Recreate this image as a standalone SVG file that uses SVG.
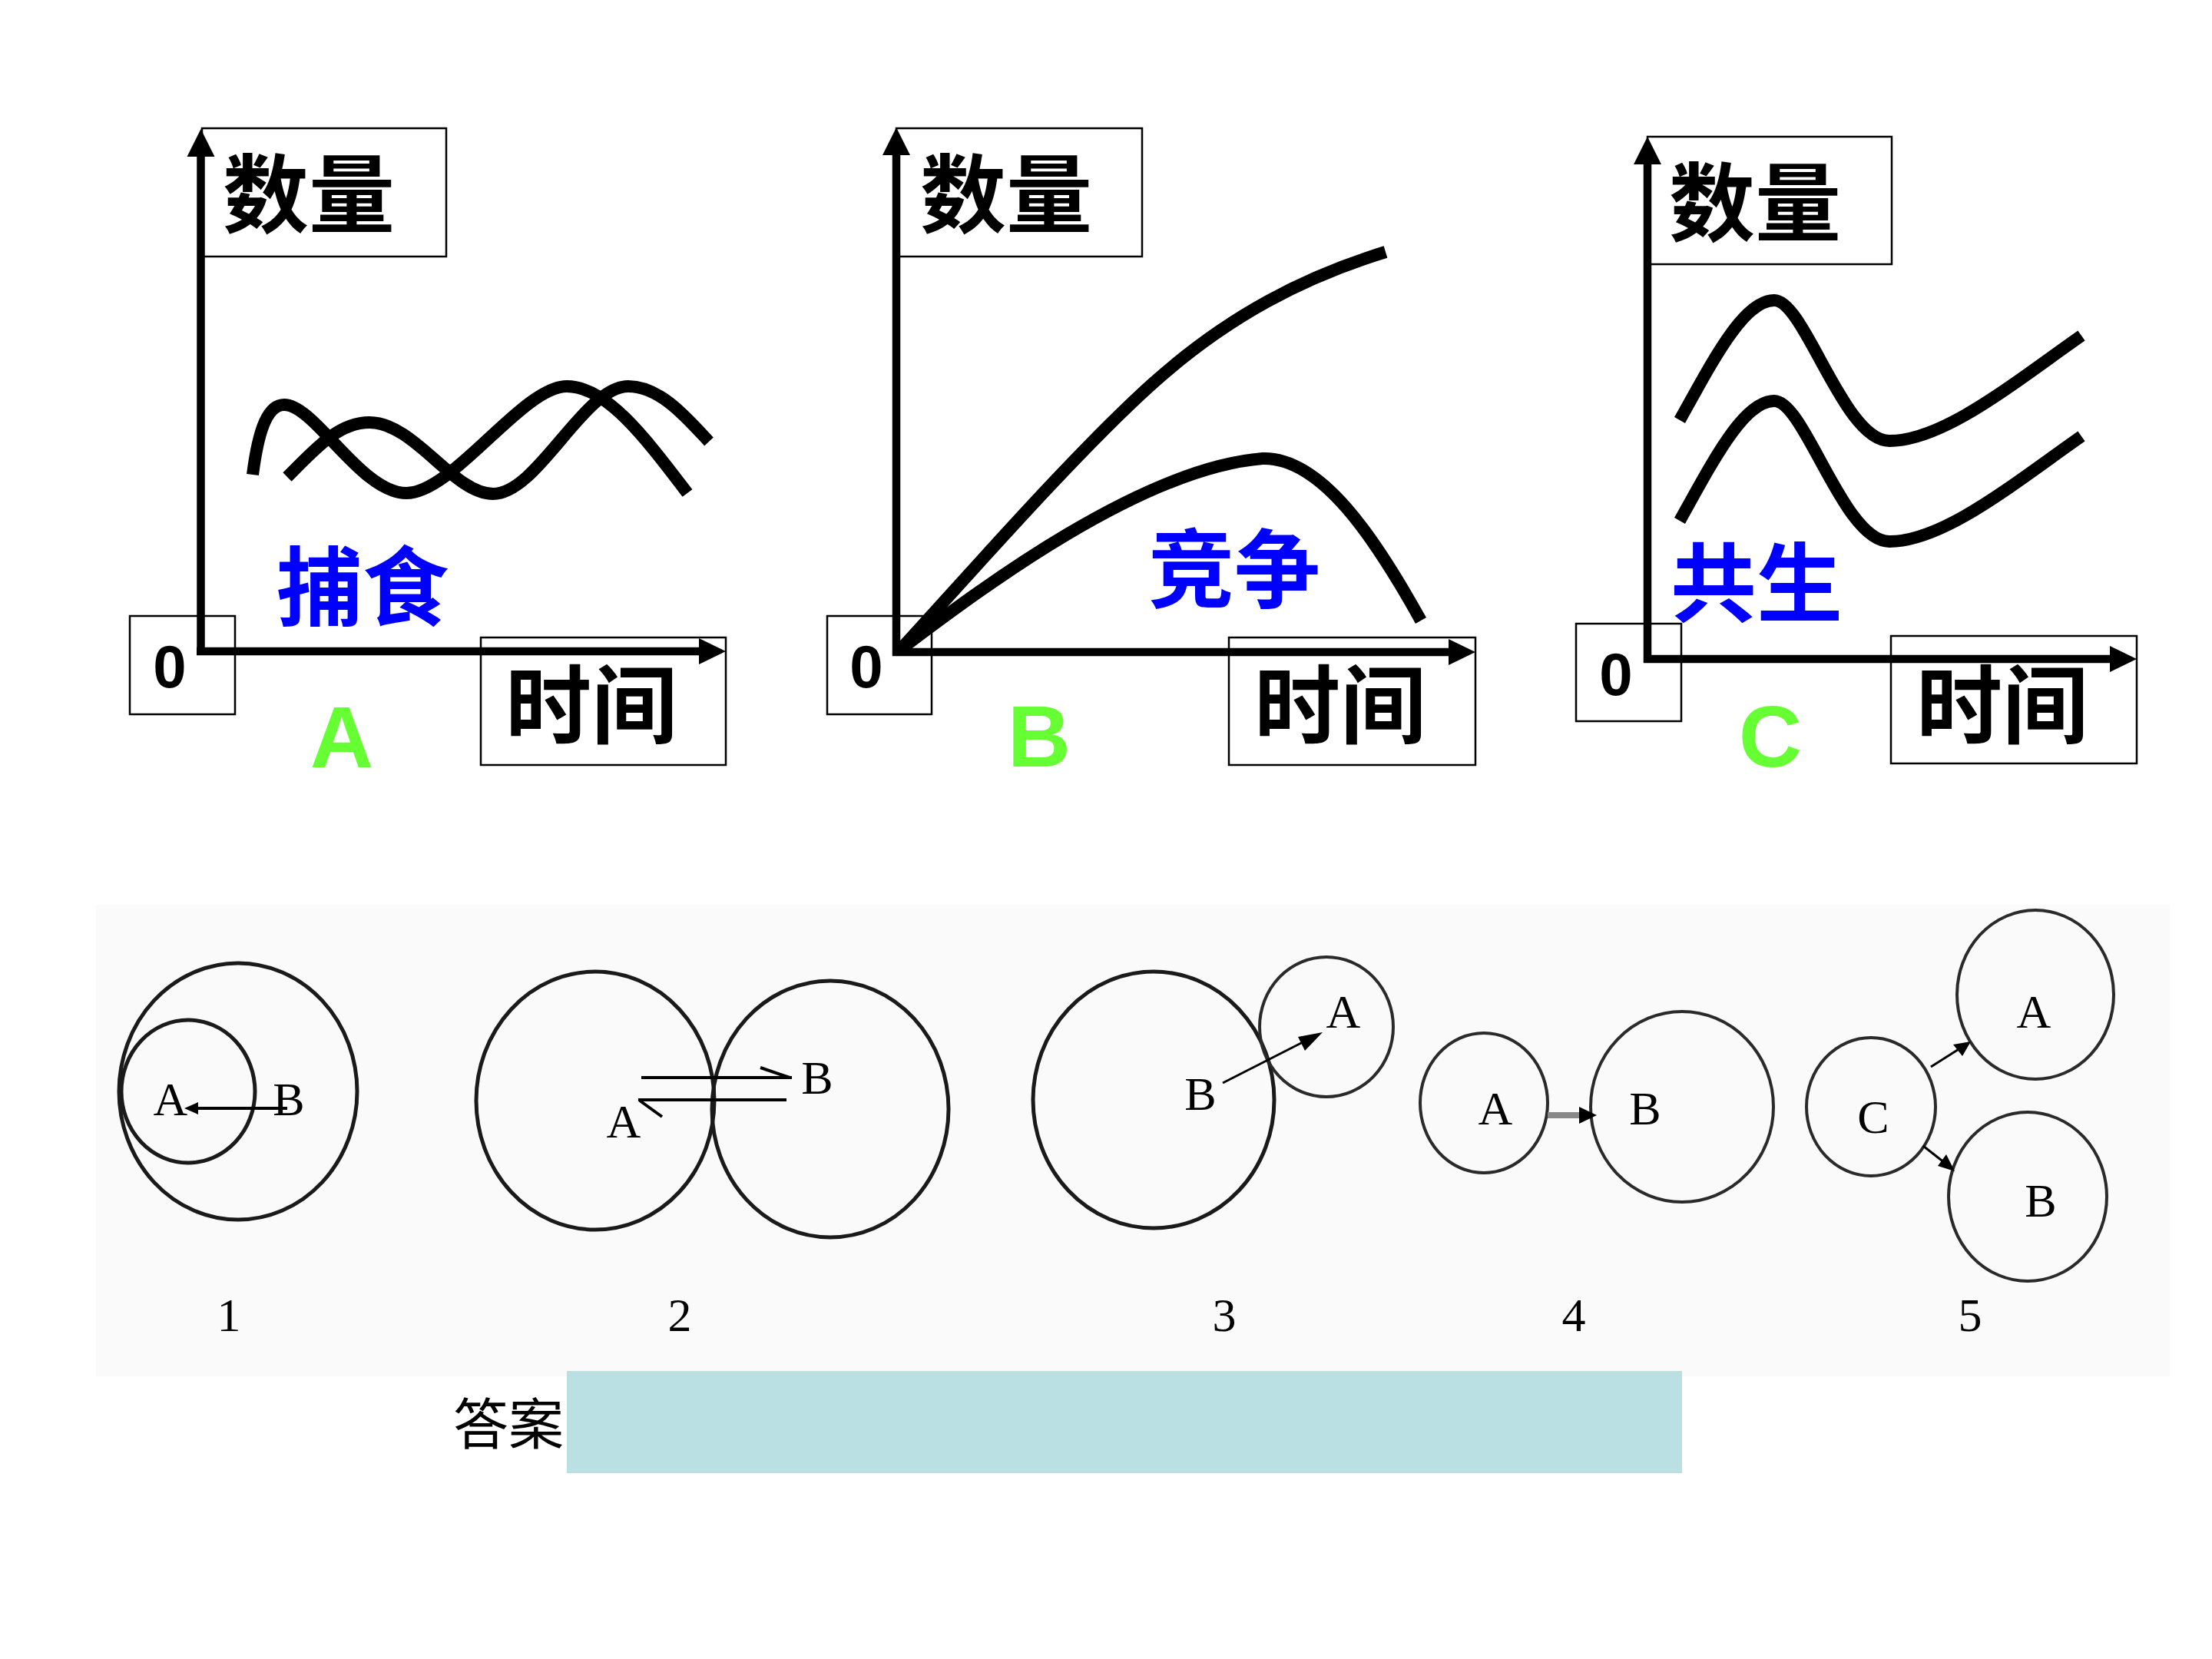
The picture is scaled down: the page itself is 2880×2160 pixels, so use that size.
<svg xmlns="http://www.w3.org/2000/svg" width="2880" height="2160" viewBox="0 0 2880 2160">
<style>
.box{fill:none;stroke:#000;stroke-width:2.5}
.axis{stroke:#000;stroke-width:10.5;fill:none}
.curve{stroke:#000;stroke-width:16;fill:none;stroke-linecap:butt}
.cjk{font-family:"Noto Sans CJK SC","Noto Sans CJK JP",sans-serif;font-weight:bold;font-size:112px}
.zero{font-family:"Liberation Sans",Arial,sans-serif;font-weight:bold;font-size:78px;text-anchor:middle}
.big{font-family:"Liberation Sans",Arial,sans-serif;font-weight:bold;font-size:114px;text-anchor:middle;fill:#66FF33}
.blue{fill:#0000FF}
.ring{fill:none;stroke:#1a1a1a;stroke-width:5}
.ring2{fill:none;stroke:#2a2a2a;stroke-width:4}
.lbl{font-family:"Liberation Serif","Times New Roman",serif;font-size:62px;text-anchor:middle;fill:#000}
.thin{stroke:#000;stroke-width:4;fill:none}
</style>
<rect width="2880" height="2160" fill="#fff"/>

<g id="panelA">
  <rect class="box" x="263" y="167" width="318" height="167"/>
  <rect class="box" x="169" y="802" width="137" height="128"/>
  <rect class="box" x="626" y="830" width="319" height="166"/>
  <line class="axis" x1="261.5" y1="200" x2="261.5" y2="853"/>
  <line class="axis" x1="256" y1="848" x2="912" y2="848"/>
  <polygon points="261.5,168 243.5,204 279.5,204"/>
  <polygon points="945,848 910,831 910,865"/>
  <path class="curve" d="M329,618 C337,555 350,527 370,527 C410,527 470,642 529,642 C590,642 680,503 738,503 C790,503 840,570 895,642"/>
  <path class="curve" d="M374,621 C410,585 440,550 481,550 C540,550 590,643 642,643 C700,643 760,503 818,503 C860,503 895,545 923,575"/>
  <text class="cjk" x="290" y="295">数量</text>
  <text class="cjk" x="658" y="960">时间</text>
  <text class="cjk blue" x="360" y="806">捕食</text>
  <text class="zero" x="221" y="895">0</text>
  <text class="big" x="445" y="999">A</text>
</g>

<g id="panelB">
  <rect class="box" x="1167" y="167" width="320" height="167"/>
  <rect class="box" x="1077" y="802" width="136" height="128"/>
  <rect class="box" x="1600" y="830" width="321" height="166"/>
  <line class="axis" x1="1167" y1="198" x2="1167" y2="854"/>
  <line class="axis" x1="1162" y1="849" x2="1888" y2="849"/>
  <polygon points="1167,166 1149,202 1185,202"/>
  <polygon points="1921,849 1886,832 1886,866"/>
  <path class="curve" d="M1173,845 C1260,750 1400,590 1500,500 C1600,410 1700,360 1804,328"/>
  <path class="curve" d="M1173,845 C1260,780 1480,610 1644,597 C1720,595 1790,700 1850,808"/>
  <text class="cjk" x="1198" y="295">数量</text>
  <text class="cjk" x="1633" y="960">时间</text>
  <text class="cjk blue" x="1495" y="783">竞争</text>
  <text class="zero" x="1128" y="895">0</text>
  <text class="big" x="1353" y="998">B</text>
</g>

<g id="panelC">
  <rect class="box" x="2145" y="178" width="318" height="166"/>
  <rect class="box" x="2052" y="812" width="137" height="127"/>
  <rect class="box" x="2462" y="828" width="320" height="166"/>
  <line class="axis" x1="2145" y1="210" x2="2145" y2="863"/>
  <line class="axis" x1="2140" y1="858" x2="2748" y2="858"/>
  <polygon points="2145,178 2127,214 2163,214"/>
  <polygon points="2782,858 2747,841 2747,875"/>
  <path class="curve" d="M2187,547 C2230,470 2270,391 2310,391 C2350,391 2400,574 2460,574 C2530,574 2620,500 2710,437"/>
  <path class="curve" d="M2187,678 C2230,601 2270,522 2310,522 C2350,522 2400,705 2460,705 C2530,705 2620,631 2710,568"/>
  <text class="cjk" x="2173" y="306">数量</text>
  <text class="cjk" x="2495" y="960">时间</text>
  <text class="cjk blue" x="2175" y="801">共生</text>
  <text class="zero" x="2104" y="905">0</text>
  <text class="big" x="2305" y="998">C</text>
</g>

<g id="relations">
  <rect x="125" y="1178" width="2700" height="614" fill="#F9FAF9"/>
  <g id="rel1">
    <ellipse class="ring" cx="310" cy="1421" rx="155" ry="167"/>
    <ellipse class="ring" cx="245" cy="1421" rx="87" ry="93"/>
    <text class="lbl" x="222" y="1452">A</text>
    <text class="lbl" x="376" y="1452">B</text>
    <text class="lbl" x="298" y="1733">1</text>
  </g>
  <g id="rel2">
    <ellipse class="ring" cx="775" cy="1433" rx="155" ry="168"/>
    <ellipse class="ring" cx="1081" cy="1444" rx="154" ry="167"/>
    <text class="lbl" x="812" y="1481">A</text>
    <text class="lbl" x="1064" y="1424">B</text>
    <text class="lbl" x="885" y="1733">2</text>
  </g>
  <g id="rel3">
    <ellipse class="ring" cx="1502" cy="1432" rx="157" ry="167"/>
    <ellipse class="ring2" cx="1727" cy="1337" rx="87" ry="91"/>
    <text class="lbl" x="1563" y="1445">B</text>
    <text class="lbl" x="1749" y="1338">A</text>
    <text class="lbl" x="1594" y="1733">3</text>
  </g>
  <g id="rel4">
    <ellipse class="ring2" cx="1932" cy="1436" rx="83" ry="91"/>
    <ellipse class="ring2" cx="2190" cy="1441" rx="119" ry="124"/>
    <text class="lbl" x="1947" y="1464">A</text>
    <text class="lbl" x="2142" y="1464">B</text>
    <text class="lbl" x="2049" y="1733">4</text>
  </g>
  <g id="rel5">
    <ellipse class="ring2" cx="2436" cy="1441" rx="84" ry="90"/>
    <ellipse class="ring2" cx="2650" cy="1295" rx="102" ry="110"/>
    <ellipse class="ring2" cx="2640" cy="1558" rx="103" ry="110"/>
    <text class="lbl" x="2648" y="1338">A</text>
    <text class="lbl" x="2439" y="1475">C</text>
    <text class="lbl" x="2657" y="1584">B</text>
    <text class="lbl" x="2565" y="1733">5</text>
  </g>
</g>

<g id="connectors">
  <line class="thin" x1="374" y1="1443" x2="250" y2="1443"/>
  <polygon points="240,1443 258,1435 258,1451"/>
  <line class="thin" x1="835" y1="1403" x2="1031" y2="1403"/>
  <line class="thin" x1="990" y1="1390" x2="1028" y2="1403"/>
  <line class="thin" x1="831" y1="1432" x2="1024" y2="1432"/>
  <line class="thin" x1="833" y1="1433" x2="862" y2="1454"/>
  <line stroke="#000" stroke-width="3" x1="1592" y1="1410" x2="1700" y2="1355"/>
  <polygon points="1722,1344 1699,1368 1690,1350"/>
  <line stroke="#888" stroke-width="8" x1="2015" y1="1452" x2="2058" y2="1452"/>
  <polygon points="2079,1452 2056,1441 2056,1463"/>
  <line stroke="#000" stroke-width="3" x1="2514" y1="1389" x2="2552" y2="1365"/>
  <polygon points="2566,1356 2555,1375 2543,1360"/>
  <line stroke="#000" stroke-width="3" x1="2504" y1="1492" x2="2532" y2="1514"/>
  <polygon points="2545,1525 2523,1518 2534,1503"/>
</g>

<g id="answer">
  <rect x="738" y="1785" width="1452" height="133" fill="#BBE0E3"/>
  <text x="590" y="1880" font-family="Noto Sans CJK SC, sans-serif" font-size="72" fill="#000">答案</text>
</g>
</svg>
